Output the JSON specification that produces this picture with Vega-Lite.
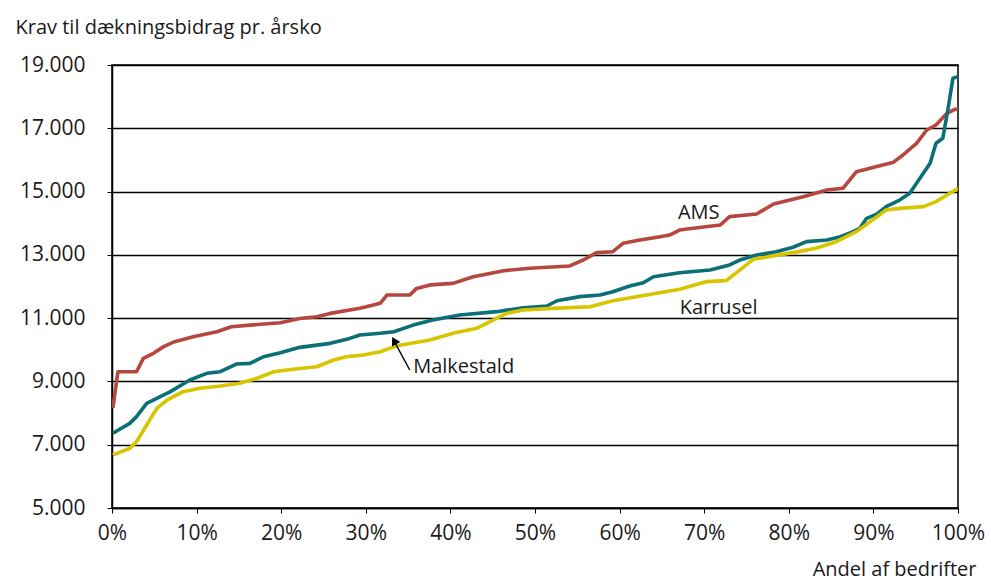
{
  "$schema": "https://vega.github.io/schema/vega-lite/v6.json",
  "width": 846,
  "height": 443,
  "autosize": {"type": "none"},
  "padding": {"left": 112, "top": 65, "right": 33, "bottom": 75},
  "background": "white",
  "config": {
    "view": {"stroke": "black", "strokeWidth": 1.5},
    "font": "Open Sans",
    "axis": {"labelFont": "Open Sans", "titleFont": "Open Sans", "labelColor": "#1a1a1a", "titleColor": "#1a1a1a", "titleFontWeight": "normal", "domainColor": "black", "tickColor": "black", "gridColor": "black"}
  },
  "datasets": {
    "lines": [
      {"s":"AMS","x":0.1,"y":8160},{"s":"AMS","x":0.7,"y":9307},{"s":"AMS","x":2.9,"y":9307},{"s":"AMS","x":3.7,"y":9730},{"s":"AMS","x":4.9,"y":9890},{"s":"AMS","x":6.1,"y":10100},{"s":"AMS","x":7.4,"y":10255},{"s":"AMS","x":9.6,"y":10413},{"s":"AMS","x":12.4,"y":10570},{"s":"AMS","x":14.1,"y":10730},{"s":"AMS","x":16.3,"y":10780},{"s":"AMS","x":19.9,"y":10855},{"s":"AMS","x":22.2,"y":10990},{"s":"AMS","x":24.2,"y":11045},{"s":"AMS","x":25.8,"y":11150},{"s":"AMS","x":29.3,"y":11310},{"s":"AMS","x":30.9,"y":11415},{"s":"AMS","x":31.7,"y":11470},{"s":"AMS","x":32.5,"y":11730},{"s":"AMS","x":35.2,"y":11730},{"s":"AMS","x":36,"y":11940},{"s":"AMS","x":37.6,"y":12050},{"s":"AMS","x":40.3,"y":12100},{"s":"AMS","x":42.7,"y":12310},{"s":"AMS","x":46.3,"y":12500},{"s":"AMS","x":49.4,"y":12575},{"s":"AMS","x":54.1,"y":12650},{"s":"AMS","x":55.7,"y":12837},{"s":"AMS","x":57.3,"y":13070},{"s":"AMS","x":59.2,"y":13100},{"s":"AMS","x":60.4,"y":13365},{"s":"AMS","x":62.4,"y":13470},{"s":"AMS","x":64.8,"y":13575},{"s":"AMS","x":65.9,"y":13627},{"s":"AMS","x":67.1,"y":13785},{"s":"AMS","x":68.7,"y":13840},{"s":"AMS","x":71.9,"y":13943},{"s":"AMS","x":73,"y":14207},{"s":"AMS","x":76.2,"y":14290},{"s":"AMS","x":78.2,"y":14607},{"s":"AMS","x":81.7,"y":14838},{"s":"AMS","x":84.5,"y":15050},{"s":"AMS","x":86.4,"y":15103},{"s":"AMS","x":88,"y":15630},{"s":"AMS","x":90.4,"y":15790},{"s":"AMS","x":92.3,"y":15915},{"s":"AMS","x":93.5,"y":16156},{"s":"AMS","x":95.1,"y":16525},{"s":"AMS","x":96.3,"y":16946},{"s":"AMS","x":97.4,"y":17104},{"s":"AMS","x":98.7,"y":17473},{"s":"AMS","x":99.6,"y":17600},{"s":"AMS","x":100,"y":17600},
      {"s":"Malkestald","x":0.1,"y":7360},{"s":"Malkestald","x":2.1,"y":7675},{"s":"Malkestald","x":2.9,"y":7887},{"s":"Malkestald","x":4.1,"y":8307},{"s":"Malkestald","x":5.7,"y":8520},{"s":"Malkestald","x":6.9,"y":8677},{"s":"Malkestald","x":9.2,"y":9045},{"s":"Malkestald","x":11.2,"y":9256},{"s":"Malkestald","x":12.8,"y":9307},{"s":"Malkestald","x":14.7,"y":9550},{"s":"Malkestald","x":16.3,"y":9570},{"s":"Malkestald","x":17.9,"y":9780},{"s":"Malkestald","x":19.9,"y":9907},{"s":"Malkestald","x":22.2,"y":10077},{"s":"Malkestald","x":25.8,"y":10203},{"s":"Malkestald","x":28.1,"y":10360},{"s":"Malkestald","x":29.3,"y":10467},{"s":"Malkestald","x":31.7,"y":10520},{"s":"Malkestald","x":33.3,"y":10570},{"s":"Malkestald","x":35.6,"y":10780},{"s":"Malkestald","x":37.9,"y":10940},{"s":"Malkestald","x":41.1,"y":11100},{"s":"Malkestald","x":45.5,"y":11205},{"s":"Malkestald","x":48.6,"y":11330},{"s":"Malkestald","x":51.4,"y":11383},{"s":"Malkestald","x":52.6,"y":11550},{"s":"Malkestald","x":55.3,"y":11680},{"s":"Malkestald","x":57.7,"y":11730},{"s":"Malkestald","x":59.2,"y":11835},{"s":"Malkestald","x":61.2,"y":12015},{"s":"Malkestald","x":62.8,"y":12120},{"s":"Malkestald","x":64,"y":12310},{"s":"Malkestald","x":67.1,"y":12437},{"s":"Malkestald","x":70.7,"y":12520},{"s":"Malkestald","x":73,"y":12680},{"s":"Malkestald","x":74.2,"y":12837},{"s":"Malkestald","x":76.2,"y":12995},{"s":"Malkestald","x":78.5,"y":13100},{"s":"Malkestald","x":80.5,"y":13240},{"s":"Malkestald","x":82.1,"y":13417},{"s":"Malkestald","x":84.5,"y":13470},{"s":"Malkestald","x":86.1,"y":13575},{"s":"Malkestald","x":87.6,"y":13733},{"s":"Malkestald","x":88.4,"y":13840},{"s":"Malkestald","x":89.2,"y":14155},{"s":"Malkestald","x":90.4,"y":14290},{"s":"Malkestald","x":91.5,"y":14525},{"s":"Malkestald","x":93.1,"y":14733},{"s":"Malkestald","x":94.3,"y":14945},{"s":"Malkestald","x":95.1,"y":15260},{"s":"Malkestald","x":95.9,"y":15577},{"s":"Malkestald","x":96.7,"y":15893},{"s":"Malkestald","x":97.4,"y":16525},{"s":"Malkestald","x":98.2,"y":16683},{"s":"Malkestald","x":98.8,"y":17578},{"s":"Malkestald","x":99.4,"y":18580},{"s":"Malkestald","x":100,"y":18630},
      {"s":"Karrusel","x":0.1,"y":6674},{"s":"Karrusel","x":2.1,"y":6885},{"s":"Karrusel","x":2.9,"y":7095},{"s":"Karrusel","x":4.1,"y":7622},{"s":"Karrusel","x":5.3,"y":8150},{"s":"Karrusel","x":6.5,"y":8412},{"s":"Karrusel","x":8.4,"y":8677},{"s":"Karrusel","x":10.4,"y":8782},{"s":"Karrusel","x":12.8,"y":8855},{"s":"Karrusel","x":15.1,"y":8940},{"s":"Karrusel","x":17.1,"y":9098},{"s":"Karrusel","x":19.1,"y":9307},{"s":"Karrusel","x":21.4,"y":9383},{"s":"Karrusel","x":24.2,"y":9465},{"s":"Karrusel","x":26.2,"y":9676},{"s":"Karrusel","x":27.7,"y":9780},{"s":"Karrusel","x":29.7,"y":9835},{"s":"Karrusel","x":31.7,"y":9940},{"s":"Karrusel","x":33.7,"y":10130},{"s":"Karrusel","x":37.6,"y":10310},{"s":"Karrusel","x":40.3,"y":10520},{"s":"Karrusel","x":43.1,"y":10680},{"s":"Karrusel","x":44.7,"y":10890},{"s":"Karrusel","x":46.6,"y":11150},{"s":"Karrusel","x":48.6,"y":11257},{"s":"Karrusel","x":52.1,"y":11310},{"s":"Karrusel","x":56.5,"y":11362},{"s":"Karrusel","x":59.2,"y":11550},{"s":"Karrusel","x":63.2,"y":11730},{"s":"Karrusel","x":67.1,"y":11910},{"s":"Karrusel","x":70.3,"y":12155},{"s":"Karrusel","x":72.6,"y":12185},{"s":"Karrusel","x":74.2,"y":12520},{"s":"Karrusel","x":75.8,"y":12860},{"s":"Karrusel","x":77.7,"y":12945},{"s":"Karrusel","x":80.5,"y":13070},{"s":"Karrusel","x":83.2,"y":13210},{"s":"Karrusel","x":85.6,"y":13417},{"s":"Karrusel","x":88,"y":13733},{"s":"Karrusel","x":89.9,"y":14100},{"s":"Karrusel","x":91.5,"y":14417},{"s":"Karrusel","x":93.1,"y":14470},{"s":"Karrusel","x":95.9,"y":14525},{"s":"Karrusel","x":97.4,"y":14683},{"s":"Karrusel","x":98.7,"y":14890},{"s":"Karrusel","x":100,"y":15100}
    ],
    "labels": [
      {"label":"AMS","x":66.9,"y":14322},
      {"label":"Karrusel","x":67.1,"y":11320},
      {"label":"Malkestald","x":35.6,"y":9446}
    ],
    "arrow": [
      {"x":35.2,"y":9360,"x2":33.4,"y2":10250}
    ],
    "head": [
      {"x":33.35,"y":10290}
    ]
  },
  "layer": [
    {
      "data": {"name": "lines"},
      "mark": {"type": "line", "strokeWidth": 3.6, "strokeJoin": "round", "clip": true},
      "encoding": {
        "x": {
          "field": "x", "type": "quantitative",
          "scale": {"domain": [0, 100], "nice": false},
          "axis": {
            "values": [0,10,20,30,40,50,60,70,80,90,100],
            "labelExpr": "datum.value + '%'",
            "labelFlush": false,
            "labelOverlap": false,
            "labelFontSize": 21,
            "grid": false,
            "tickSize": 5,
            "labelPadding": 9,
            "domainWidth": 1.5,
            "title": "Andel af bedrifter",
            "titleFontSize": 20,
            "titleAlign": "right",
            "titleAnchor": "end",
            "titleBaseline": "alphabetic",
            "titleX": 864,
            "titleY": 67
          }
        },
        "y": {
          "field": "y", "type": "quantitative",
          "scale": {"domain": [5000, 19000], "nice": false, "zero": false},
          "axis": {
            "values": [5000,7000,9000,11000,13000,15000,17000,19000],
            "labelExpr": "replace(format(datum.value, ','), ',', '.')",
            "labelFlush": false,
            "labelOverlap": false,
            "labelFontSize": 21,
            "grid": true,
            "gridWidth": 1.3,
            "tickSize": 5,
            "labelPadding": 22,
            "domainWidth": 1.5,
            "title": "Krav til dækningsbidrag pr. årsko",
            "titleFontSize": 20,
            "titleAngle": 0,
            "titleAlign": "left",
            "titleBaseline": "alphabetic",
            "titleX": -97,
            "titleY": -32
          }
        },
        "color": {
          "field": "s", "type": "nominal",
          "scale": {"domain": ["AMS", "Malkestald", "Karrusel"], "range": ["#b5473f", "#0b6f77", "#d9c400"]},
          "legend": null
        }
      }
    },
    {
      "data": {"name": "labels"},
      "mark": {"type": "text", "align": "left", "baseline": "middle", "fontSize": 20, "font": "Open Sans", "color": "#1a1a1a"},
      "encoding": {
        "x": {"field": "x", "type": "quantitative"},
        "y": {"field": "y", "type": "quantitative"},
        "text": {"field": "label"}
      }
    },
    {
      "data": {"name": "arrow"},
      "mark": {"type": "rule", "color": "black", "strokeWidth": 1.4},
      "encoding": {
        "x": {"field": "x", "type": "quantitative"},
        "y": {"field": "y", "type": "quantitative"},
        "x2": {"field": "x2"},
        "y2": {"field": "y2"}
      }
    },
    {
      "data": {"name": "head"},
      "mark": {"type": "point", "shape": "triangle-up", "filled": true, "color": "black", "size": 90, "angle": 331, "opacity": 1},
      "encoding": {
        "x": {"field": "x", "type": "quantitative"},
        "y": {"field": "y", "type": "quantitative"}
      }
    }
  ]
}
